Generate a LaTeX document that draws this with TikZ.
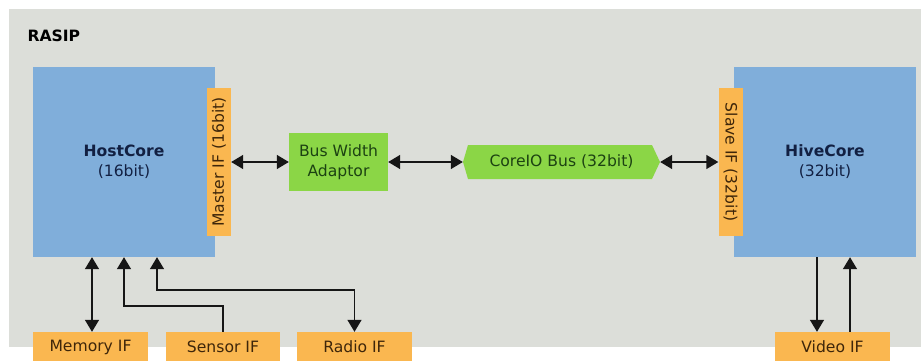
\documentclass[tikz,border=0pt]{standalone}
\usepackage{fontspec}
\setmainfont{DejaVu Sans}
\usetikzlibrary{arrows.meta}
\definecolor{bgc}{RGB}{220,222,217}
\definecolor{coreblue}{RGB}{128,174,218}
\definecolor{ifor}{RGB}{250,183,80}
\definecolor{busgreen}{RGB}{139,214,70}
\definecolor{txtgreen}{RGB}{28,66,18}
\definecolor{txtblue}{RGB}{18,32,66}
\definecolor{txtorange}{RGB}{62,38,10}
\definecolor{arrowc}{RGB}{22,22,22}
\tikzset{
  core/.style={fill=coreblue, text=txtblue, align=center, inner sep=0pt,
    minimum width=182pt, minimum height=190pt},
  iface/.style={fill=ifor, text=txtorange, inner sep=0pt},
  sideif/.style={iface, minimum width=148pt, minimum height=24pt},
  botif/.style={iface, minimum width=115pt, minimum height=30pt},
  greenbox/.style={fill=busgreen, text=txtgreen, align=center, inner sep=0pt},
  conn/.style={draw=arrowc, line width=1.5pt},
}
\begin{document}
\begin{tikzpicture}[x=1pt, y=-1pt, font=\fontsize{15.6}{20}\selectfont,
  >={Triangle[width=14pt,length=12pt]}]
\useasboundingbox (0,0) rectangle (921,360);
\fill[bgc] (9,9) rectangle (921,347);
\node[anchor=west, font=\fontsize{15.6}{20}\selectfont\bfseries, text=black] (title) at (24,36) {RASIP};

\node[core] (host) at (124,162) {\textbf{HostCore}\\(16bit)};
\node[sideif, rotate=90] (mif) at (219,162) {Master IF (16bit)};
\node[core] (hive) at (825,162) {\textbf{HiveCore}\\(32bit)};
\node[sideif, rotate=-90] (sif) at (730.5,162) {Slave IF (32bit)};

\node[greenbox, minimum width=99pt, minimum height=58pt] (bwa) at (338.5,162) {Bus Width\\Adaptor};
\node[text=txtgreen, inner sep=0pt, minimum width=197pt, minimum height=34pt,
  path picture={
    \fill[busgreen] (path picture bounding box.west)
      -- ([xshift=5pt]path picture bounding box.north west)
      -- ([xshift=-8pt]path picture bounding box.north east)
      -- (path picture bounding box.east)
      -- ([xshift=-8pt]path picture bounding box.south east)
      -- ([xshift=5pt]path picture bounding box.south west) -- cycle;
  }] (bus) at (561.5,162) {CoreIO Bus (32bit)};

\node[botif] (mem) at (90.5,347) {Memory IF};
\node[botif, minimum width=114pt] (sen) at (223,347) {Sensor IF};
\node[botif] (rad) at (354.5,347) {Radio IF};
\node[botif] (vid) at (832.5,347) {Video IF};

\coordinate (sy) at (0,306);
\coordinate (ry) at (0,290);

\draw[conn, <->] (mif) -- (bwa);
\draw[conn, <->] (bwa) -- (bus);
\draw[conn, <->] (bus) -- (sif);

\draw[conn, <->] ([xshift=-32pt]host.south) -- ([xshift=-32pt]host.south |- mem.north);
\draw[conn, ->] (sen.north) -- (sen.north |- sy) -| (host.south);
\draw[conn, <->] ([xshift=33pt]host.south) |- (rad.north |- ry) -- (rad.north);

\draw[conn, ->] ([xshift=-8pt]hive.south) -- ([xshift=-8pt]hive.south |- vid.north);
\draw[conn, ->] ([xshift=25pt]hive.south |- vid.north) -- ([xshift=25pt]hive.south);
\end{tikzpicture}
\end{document}
